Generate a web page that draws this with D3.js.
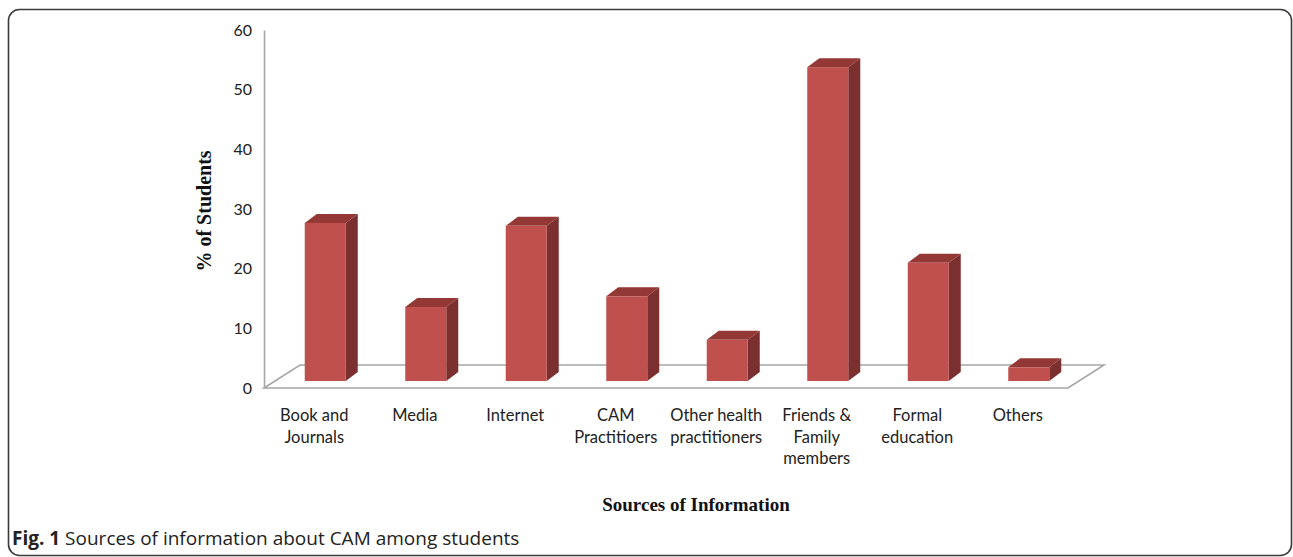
<!DOCTYPE html>
<html>
<head>
<meta charset="utf-8">
<script src="https://cdn.jsdelivr.net/npm/d3@7"></script>
<style>
  html, body { margin: 0; padding: 0; background: #fff; }
  svg { display: block; }
</style>
</head>
<body>
<svg id="chart" width="1293" height="557"></svg>
<script>
// Sources of information about CAM (percentage of students)
const categories = [
  ["Book and", "Journals"],
  ["Media"],
  ["Internet"],
  ["CAM", "Practitioers"],
  ["Other health", "practitioners"],
  ["Friends &", "Family", "members"],
  ["Formal", "education"],
  ["Others"]
];
const values = [26.5, 12.4, 26.0, 14.2, 6.9, 52.6, 19.8, 2.3];
const yTicks = [0, 10, 20, 30, 40, 50, 60];

const svg = d3.select("#chart");

// outer figure frame
svg.append("rect")
  .attr("x", 8.5).attr("y", 9.5)
  .attr("width", 1283).attr("height", 546)
  .attr("rx", 11).attr("ry", 11)
  .attr("fill", "none").attr("stroke", "#3a3a3a").attr("stroke-width", 1.6);

// plot geometry
const x0 = 264, x1 = 1068;   // front edge of floor
const floorDX = 36, floorDY = 23; // depth of the floor
const barDX = 11, barDY = 7;  // front face position inside the depth
const sideDX = 12, sideDY = 9; // bar depth
const barW = 41;

const keys = categories.map((c, i) => i);
const x = d3.scaleBand().domain(keys).range([x0, x1]).padding(0);
const y = d3.scaleLinear().domain([0, 60]).range([388, 30]);

// floor
svg.append("polygon")
  .attr("points", [[x0, y(0)], [x1, y(0)], [x1 + floorDX, y(0) - floorDY], [x0 + floorDX, y(0) - floorDY]].join(" "))
  .attr("fill", "none").attr("stroke", "#a6a6a6").attr("stroke-width", 1.6);

// value axis
const yAxis = svg.append("g")
  .attr("transform", `translate(${x0},0)`)
  .call(d3.axisLeft(y).tickValues(yTicks).tickSize(0).tickPadding(12));
yAxis.select(".domain").attr("stroke", "#a6a6a6").attr("stroke-width", 1.6);
yAxis.selectAll("text")
  .attr("font-family", "Lato, 'Open Sans', sans-serif")
  .attr("font-size", 16).attr("fill", "#222");

// 3D bars
const bars = svg.append("g");
keys.forEach(i => {
  const left = x(i) + x.bandwidth() / 2 + barDX - barW / 2;
  const right = left + barW;
  const base = y(0) - barDY;
  const top = y(values[i]) - barDY;
  // side face
  bars.append("polygon")
    .attr("points", [[right, base], [right + sideDX, base - sideDY], [right + sideDX, top - sideDY], [right, top]].join(" "))
    .attr("fill", "#7b2f2e");
  // top face
  bars.append("polygon")
    .attr("points", [[left, top], [right, top], [right + sideDX, top - sideDY], [left + sideDX, top - sideDY]].join(" "))
    .attr("fill", "#943836");
  // front face
  bars.append("rect")
    .attr("x", left).attr("y", top)
    .attr("width", barW).attr("height", base - top)
    .attr("fill", "#c0504d");
});

// category labels
const labels = svg.append("g")
  .attr("font-family", "Lato, 'Open Sans', sans-serif")
  .attr("font-size", 16.5).attr("fill", "#222").attr("text-anchor", "middle");
keys.forEach(i => {
  const t = labels.append("text")
    .attr("x", x(i) + x.bandwidth() / 2)
    .attr("y", 421);
  categories[i].forEach((line, j) => {
    t.append("tspan").attr("x", x(i) + x.bandwidth() / 2).attr("dy", j === 0 ? 0 : 21.5).text(line);
  });
});

// axis titles
svg.append("text")
  .attr("transform", "translate(211,211) rotate(-90)")
  .attr("text-anchor", "middle")
  .attr("font-family", "'Liberation Serif', 'DejaVu Serif', serif")
  .attr("font-weight", "bold").attr("font-size", 20).attr("fill", "#111")
  .text("% of Students");

svg.append("text")
  .attr("x", 696).attr("y", 511)
  .attr("text-anchor", "middle")
  .attr("font-family", "'Liberation Serif', 'DejaVu Serif', serif")
  .attr("font-weight", "bold").attr("font-size", 19).attr("fill", "#111")
  .text("Sources of Information");

// figure caption
const cap = svg.append("text")
  .attr("x", 12).attr("y", 545)
  .attr("font-family", "'Open Sans', sans-serif")
  .attr("font-size", 19).attr("fill", "#222");
cap.append("tspan").attr("font-weight", "bold").text("Fig. 1");
cap.append("tspan").text(" Sources of information about CAM among students");
</script>
</body>
</html>
